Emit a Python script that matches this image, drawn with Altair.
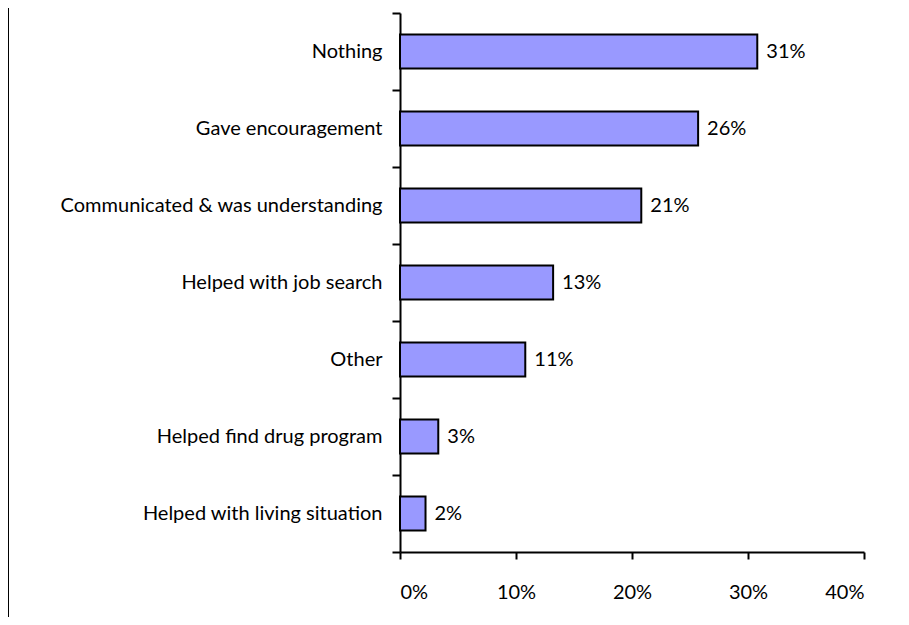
import altair as alt
import pandas as pd

categories = [
    "Nothing",
    "Gave encouragement",
    "Communicated & was understanding",
    "Helped with job search",
    "Other",
    "Helped find drug program",
    "Helped with living situation",
]
values = [0.308, 0.257, 0.208, 0.132, 0.108, 0.033, 0.022]
labels = ["31%", "26%", "21%", "13%", "11%", "3%", "2%"]
x_ticks = [0, 0.1, 0.2, 0.3, 0.4]

df = pd.DataFrame({"cat": categories, "val": values, "lab": labels})

FONT = "Lato"
FS = 20

y_enc = alt.Y(
    "cat:N",
    sort=categories,
    title=None,
    scale=alt.Scale(paddingInner=0, paddingOuter=0),
    axis=alt.Axis(
        tickBand="extent",
        domainColor="black",
        domainWidth=2,
        tickColor="black",
        tickWidth=2,
        tickSize=8,
        labelPadding=10,
        labelFont=FONT,
        labelFontSize=FS,
        labelColor="black",
        labelLimit=400,
        grid=False,
    ),
)
x_enc = alt.X(
    "val:Q",
    title=None,
    scale=alt.Scale(domain=[0, 0.4], nice=False),
    axis=alt.Axis(
        values=x_ticks,
        format=".0%",
        grid=False,
        domainColor="black",
        domainWidth=2,
        tickColor="black",
        tickWidth=2,
        tickSize=7,
        labelPadding=23,
        labelFont=FONT,
        labelFontSize=FS,
        labelColor="black",
    ),
)

bars = alt.Chart(df).mark_bar(
    size=34, color="#9999FF", stroke="black", strokeWidth=2
).encode(x=x_enc, y=y_enc)

text = alt.Chart(df).mark_text(
    align="left", baseline="middle", dx=9, font=FONT, fontSize=FS, color="black"
).encode(x=x_enc, y=y_enc, text="lab:N")

border = alt.Chart(pd.DataFrame({"a": [0]})).mark_rule(
    color="black", strokeWidth=2
).encode(x=alt.value(-392), y=alt.value(-10), y2=alt.value(620))

chart = (
    alt.layer(bars, text, border)
    .properties(
        width=464,
        height=539,
        autosize=alt.AutoSizeParams(type="none"),
        padding={"left": 392, "top": 5, "right": 37, "bottom": 65},
        view=alt.ViewBackground(strokeWidth=0, strokeOpacity=0),
    )
    .configure_view(strokeOpacity=0, strokeWidth=0)
    .configure(background="white")
)

chart.save("out.html", embed_options={"renderer": "svg", "actions": False})
